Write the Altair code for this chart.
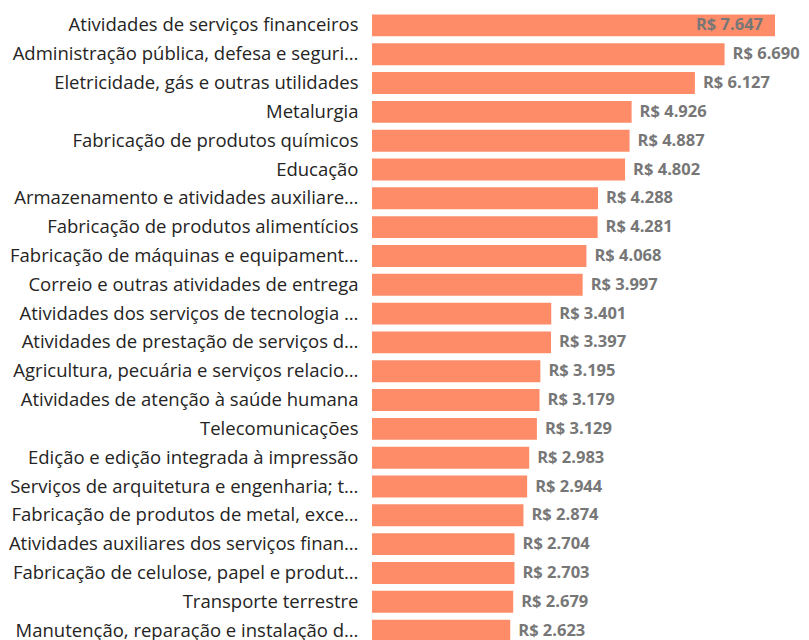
import altair as alt
import pandas as pd

categories = [
    "Atividades de serviços financeiros",
    "Administração pública, defesa e seguri…",
    "Eletricidade, gás e outras utilidades",
    "Metalurgia",
    "Fabricação de produtos químicos",
    "Educação",
    "Armazenamento e atividades auxiliare…",
    "Fabricação de produtos alimentícios",
    "Fabricação de máquinas e equipament…",
    "Correio e outras atividades de entrega",
    "Atividades dos serviços de tecnologia …",
    "Atividades de prestação de serviços d…",
    "Agricultura, pecuária e serviços relacio…",
    "Atividades de atenção à saúde humana",
    "Telecomunicações",
    "Edição e edição integrada à impressão",
    "Serviços de arquitetura e engenharia; t…",
    "Fabricação de produtos de metal, exce…",
    "Atividades auxiliares dos serviços finan…",
    "Fabricação de celulose, papel e produt…",
    "Transporte terrestre",
    "Manutenção, reparação e instalação d…",
]
values = [7647, 6690, 6127, 4926, 4887, 4802, 4288, 4281, 4068, 3997, 3401,
          3397, 3195, 3179, 3129, 2983, 2944, 2874, 2704, 2703, 2679, 2623]

df = pd.DataFrame({"cat": categories, "val": values})
df["label"] = ["R$ " + f"{v:,}".replace(",", ".") for v in values]

FONT = "Open Sans"
BAR = "#FF8C69"

y = alt.Y("cat:N", sort=categories, title=None,
          scale=alt.Scale(paddingInner=0.24, paddingOuter=0.12),
          axis=alt.Axis(domain=False, ticks=False, labelPadding=14,
                        labelFontSize=18.5, labelFont=FONT, labelColor="#252423",
                        labelLimit=400))
x = alt.X("val:Q", title=None, axis=None,
          scale=alt.Scale(domain=[0, 8140], nice=False))

bars = alt.Chart(df).mark_bar(color=BAR).encode(x=x, y=y)

txt_out = alt.Chart(df).transform_filter("datum.val < 7000").mark_text(
    align="left", dx=8, font=FONT, fontSize=16.5, fontWeight="bold", color="#777777"
).encode(x=x, y=y, text="label:N")

txt_in = alt.Chart(df).transform_filter("datum.val >= 7000").mark_text(
    align="right", dx=-12, font=FONT, fontSize=16.5, fontWeight="bold", color="#777777"
).encode(x=x, y=y, text="label:N")

chart = alt.layer(bars, txt_out, txt_in).properties(
    width=429, height=634,
    autosize=alt.AutoSizeParams(type="none"),
    padding={"left": 364, "top": 3, "right": 0, "bottom": 0},
).configure_view(stroke=None)

chart.save("out.html", embed_options={"renderer": "svg", "actions": False})
